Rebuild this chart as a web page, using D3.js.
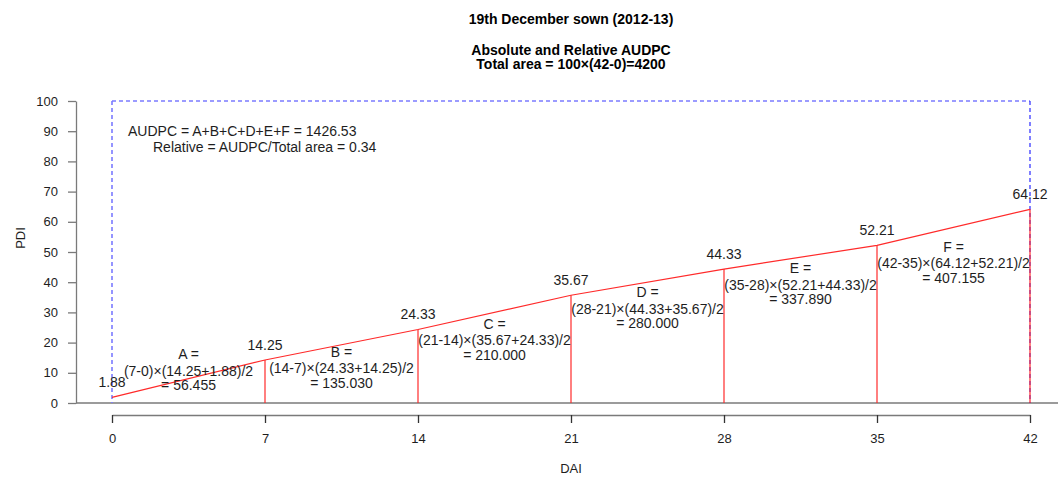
<!DOCTYPE html>
<html>
<head>
<meta charset="utf-8">
<script src="https://cdn.jsdelivr.net/npm/d3@7"></script>
<style>
  html, body { margin: 0; padding: 0; background: #fff; }
  svg { display: block; font-family: "Liberation Sans", Arial, Helvetica, sans-serif; }
</style>
</head>
<body>
<svg id="chart" width="1058" height="477"></svg>
<script>
// Days after inoculation and percent disease index at each assessment
const dai = [0, 7, 14, 21, 28, 35, 42];
const pdi = [1.88, 14.25, 24.33, 35.67, 44.33, 52.21, 64.12];
const segmentNames = ["A", "B", "C", "D", "E", "F"];
const xTickValues = [0, 7, 14, 21, 28, 35, 42];
const yTickValues = [0, 10, 20, 30, 40, 50, 60, 70, 80, 90, 100];
const maxPdi = 100;

const titleLines = ["19th December sown (2012-13)"];
const subtitleLines = ["Absolute and Relative AUDPC"];

const svg = d3.select("#chart");
const W = 1058, H = 477;
const axisGrey = "#7a7a7a";
const red = "#ff2a2a";
const ink = "#1e1e1e";

const x = d3.scaleLinear().domain([0, 42]).range([112, 1030]);
const y = d3.scaleLinear().domain([0, 100]).range([403, 101]);

// trapezoid areas between consecutive assessments
const segments = d3.range(dai.length - 1).map(i => {
  const x0 = dai[i], x1 = dai[i + 1], y0 = pdi[i], y1 = pdi[i + 1];
  return { name: segmentNames[i], x0, x1, y0, y1, area: (x1 - x0) * (y1 + y0) / 2 };
});
const audpc = d3.sum(segments, s => s.area);
const totalArea = maxPdi * (dai[dai.length - 1] - dai[0]);
const relative = audpc / totalArea;

// titles
svg.append("text").attr("x", x(21)).attr("y", 19).attr("dy", "0.35em")
  .attr("text-anchor", "middle").attr("font-weight", "bold").attr("font-size", 14)
  .text(titleLines[0]);
svg.append("text").attr("x", x(21)).attr("y", 50).attr("dy", "0.35em")
  .attr("text-anchor", "middle").attr("font-weight", "bold").attr("font-size", 14)
  .text(subtitleLines[0]);
svg.append("text").attr("x", x(21)).attr("y", 64).attr("dy", "0.35em")
  .attr("text-anchor", "middle").attr("font-weight", "bold").attr("font-size", 14)
  .text(`Total area = ${maxPdi}×(${dai[dai.length - 1]}-${dai[0]})=${totalArea}`);

// zero reference line across the plotting region
svg.append("line")
  .attr("x1", 76).attr("x2", W).attr("y1", y(0)).attr("y2", y(0))
  .attr("stroke", axisGrey).attr("stroke-width", 1.3);

// y axis
const yAxis = d3.axisLeft(y).tickValues(yTickValues).tickSize(8).tickSizeOuter(0).tickPadding(10);
const gy = svg.append("g").attr("transform", "translate(76,0)").call(yAxis);
gy.selectAll("path, line").attr("stroke", axisGrey).attr("stroke-width", 1.3);
gy.selectAll("text").attr("font-size", 13).attr("fill", ink).attr("font-family", null);

// x axis
const xAxis = d3.axisBottom(x).tickValues(xTickValues).tickSize(8).tickSizeOuter(0).tickPadding(11);
const gx = svg.append("g").attr("transform", "translate(0,415)").call(xAxis);
gx.selectAll("path, line").attr("stroke", axisGrey).attr("stroke-width", 1.3);
gx.selectAll(".tick line").attr("stroke", "#333");
gx.selectAll("text").attr("font-size", 13).attr("fill", ink).attr("font-family", null);

// axis titles
svg.append("text").attr("x", x(21)).attr("y", 468).attr("dy", "0.35em")
  .attr("text-anchor", "middle").attr("font-size", 13).attr("fill", ink).text("DAI");
svg.append("text").attr("transform", "translate(20,238) rotate(-90)").attr("dy", "0.35em")
  .attr("text-anchor", "middle").attr("font-size", 13).attr("fill", ink).text("PDI");

// total area box (dashed)
const lastX = dai[dai.length - 1];
svg.append("line")
  .attr("x1", x(0)).attr("x2", x(lastX)).attr("y1", y(maxPdi)).attr("y2", y(maxPdi))
  .attr("stroke", "#7b7bff").attr("stroke-width", 1.6).attr("stroke-dasharray", "4,3");
svg.append("line")
  .attr("x1", x(0)).attr("x2", x(0)).attr("y1", y(maxPdi)).attr("y2", y(0))
  .attr("stroke", "#7b7bff").attr("stroke-width", 1.6).attr("stroke-dasharray", "4,3");
svg.append("line")
  .attr("x1", x(lastX)).attr("x2", x(lastX)).attr("y1", y(maxPdi)).attr("y2", y(0))
  .attr("stroke", "#2a2aff").attr("stroke-width", 1.2).attr("stroke-dasharray", "4,3");

// vertical drops from each assessment
svg.append("g").selectAll("line").data(dai.map((d, i) => [d, pdi[i]]).slice(1))
  .join("line")
  .attr("x1", d => x(d[0])).attr("x2", d => x(d[0]))
  .attr("y1", y(0)).attr("y2", d => y(d[1]))
  .attr("stroke", red).attr("stroke-width", 1.2);

// disease progress line
svg.append("path")
  .datum(dai.map((d, i) => [d, pdi[i]]))
  .attr("fill", "none").attr("stroke", red).attr("stroke-width", 1.2)
  .attr("d", d3.line().x(d => x(d[0])).y(d => y(d[1])));

// value labels above each point
svg.append("g").selectAll("text").data(dai.map((d, i) => [d, pdi[i]]))
  .join("text")
  .attr("x", d => x(d[0])).attr("y", d => y(d[1]) - 15).attr("dy", "0.35em")
  .attr("text-anchor", "middle").attr("font-size", 14).attr("fill", ink)
  .text(d => d[1].toFixed(2));

// trapezoid formula labels
const segG = svg.append("g").selectAll("g").data(segments).join("g")
  .attr("transform", s => {
    const midY = Math.max(0.917 * s.y0 - 1.56, 10.7);
    return `translate(${x((s.x0 + s.x1) / 2)},${y(midY)})`;
  });
segG.append("text").attr("y", -16.5).attr("dy", "0.35em")
  .attr("text-anchor", "middle").attr("font-size", 14).attr("fill", ink)
  .text(s => `${s.name} =`);
segG.append("text").attr("y", 0).attr("dy", "0.35em")
  .attr("text-anchor", "middle").attr("font-size", 14).attr("fill", ink)
  .text(s => `(${s.x1}-${s.x0})×(${s.y1.toFixed(2)}+${s.y0.toFixed(2)})/2`);
segG.append("text").attr("y", 14.5).attr("dy", "0.35em")
  .attr("text-anchor", "middle").attr("font-size", 14).attr("fill", ink)
  .text(s => `= ${s.area.toFixed(3)}`);

// AUDPC summary
svg.append("text").attr("x", 128).attr("y", 131).attr("dy", "0.35em")
  .attr("font-size", 14).attr("fill", ink)
  .text(`AUDPC = ${segmentNames.join("+")} = ${audpc.toFixed(2)}`);
svg.append("text").attr("x", 153).attr("y", 147).attr("dy", "0.35em")
  .attr("font-size", 14).attr("fill", ink)
  .text(`Relative = AUDPC/Total area = ${relative.toFixed(2)}`);
</script>
</body>
</html>
